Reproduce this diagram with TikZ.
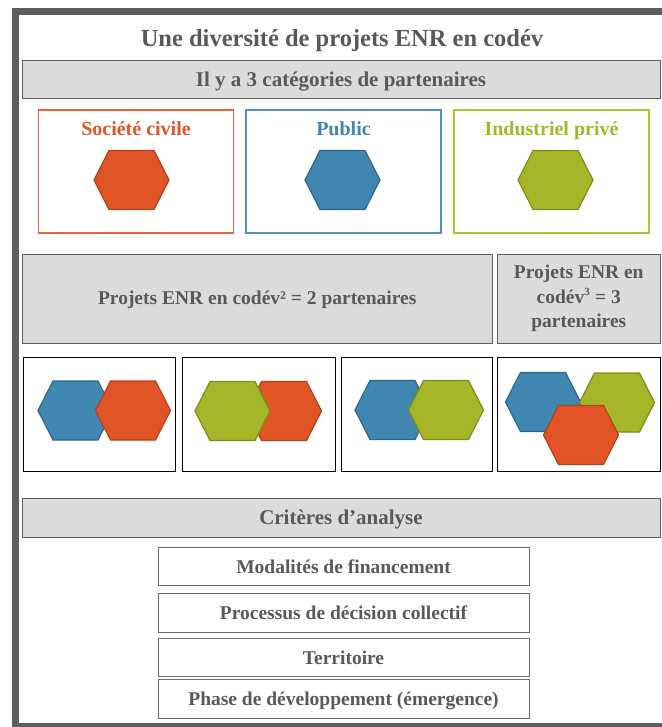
\documentclass[tikz,border=0pt]{standalone}
\usepackage{fontspec}
\setmainfont{Liberation Serif}
\usetikzlibrary{positioning}
\definecolor{framegray}{HTML}{5E5E5E}
\definecolor{txtgray}{HTML}{595959}
\definecolor{barfill}{HTML}{DCDCDC}
\definecolor{critline}{HTML}{707070}
\definecolor{orafill}{HTML}{E05426}
\definecolor{oraline}{HTML}{B3411C}
\definecolor{orabox}{HTML}{E9643E}
\definecolor{blufill}{HTML}{3F87B1}
\definecolor{bluline}{HTML}{2E6689}
\definecolor{blubox}{HTML}{4F93BC}
\definecolor{grnfill}{HTML}{A5B628}
\definecolor{grnline}{HTML}{7E8C1C}
\definecolor{grnbox}{HTML}{B2C232}
\newcommand{\hexa}[3]{
  \filldraw[fill=#2, draw=#3, line width=1.2pt] (#1) ++(-37.5,0) -- ++(15,-29.5) -- ++(45,0) -- ++(15,29.5) -- ++(-15,29.5) -- ++(-45,0) -- cycle;
}
\begin{document}
\begin{tikzpicture}[
    x=1pt, y=-1pt,
    graybar/.style={draw=framegray, line width=1pt, fill=barfill, text=txtgray, inner sep=0pt},
    partbox/.style={line width=1.5pt, inner sep=0pt, minimum width=195pt, minimum height=123pt},
    partlabel/.style={inner sep=0pt, text height=14pt, text depth=4pt, font=\bfseries\fontsize{20}{24}\selectfont},
    hexbox/.style={draw=black, line width=0.9pt, inner sep=0pt, minimum height=114pt},
    critbox/.style={draw=critline, line width=0.9pt, fill=white, text=txtgray, inner sep=0pt,
      minimum width=371pt, minimum height=38.5pt, text height=16pt, text depth=3pt,
      font=\bfseries\fontsize{19.5}{23}\selectfont},
    ]
    \useasboundingbox (0,0) rectangle (661,727);
    % outer frame
    \draw[framegray, line width=7pt] (15,12) rectangle (668,726);

    \node[text=txtgray, inner sep=0pt, text height=17pt, text depth=5pt, font=\bfseries\fontsize{24.5}{29}\selectfont]
        (title) at (342,41) {Une diversité de projets ENR en codév};
    \node[graybar, minimum width=638pt, minimum height=38pt, text height=17pt, text depth=3pt,
        font=\bfseries\fontsize{21}{25}\selectfont] (cat) at (341,80) {Il y a 3 catégories de partenaires};

    % the three partners
    \node[partbox, draw=orabox] (soc) at (136,171.5) {};
    \node[partbox, draw=blubox] (pub) at (343.5,171.5) {};
    \node[partbox, draw=grnbox] (ind) at (551.5,171.5) {};
    \node[partlabel, text=orafill, below=12pt of soc.north] (soclabel) {Société civile};
    \node[partlabel, text=blufill, below=12pt of pub.north] (publabel) {Public};
    \node[partlabel, text=grnfill, below=12pt of ind.north] (indlabel) {Industriel privé};
    \hexa{131.5,180}{orafill}{oraline}
    \hexa{342.5,180}{blufill}{bluline}
    \hexa{555.5,180}{grnfill}{grnline}

    % codev2 and codev3
    \node[graybar, minimum width=469.5pt, minimum height=89pt, text height=15pt, text depth=3pt,
        font=\bfseries\fontsize{19.5}{24}\selectfont] (two) at (257.25,298.5) {Projets ENR en codév² = 2 partenaires};
    \node[graybar, minimum width=162.5pt, minimum height=89pt, align=center,
        font=\bfseries\fontsize{19.5}{24.5}\selectfont] (three) at (578.75,298.5) {Projets ENR en\\codév\textsuperscript{\fontsize{11}{11}\selectfont 3} = 3\\partenaires};

    \node[hexbox, minimum width=152pt] (boxa) at (99,414) {};
    \node[hexbox, minimum width=153pt] (boxb) at (258.5,414) {};
    \node[hexbox, minimum width=151pt] (boxc) at (416.5,414) {};
    \node[hexbox, minimum width=162.5pt] (boxd) at (578.75,414) {};
    \hexa{75.5,410.5}{blufill}{bluline}
    \hexa{133,410.5}{orafill}{oraline}
    \hexa{284,411}{orafill}{oraline}
    \hexa{232.5,411}{grnfill}{grnline}
    \hexa{392.5,410}{blufill}{bluline}
    \hexa{446,410}{grnfill}{grnline}
    \hexa{543,402}{blufill}{bluline}
    \hexa{617,402.5}{grnfill}{grnline}
    \hexa{581,435}{orafill}{oraline}

    % criteres
    \node[graybar, minimum width=638pt, minimum height=39pt, text height=17pt, text depth=3pt,
        font=\bfseries\fontsize{21}{25}\selectfont] (crit) at (341,517.5) {Critères d’analyse};
    \node[critbox] (fin) at (343.5,566.5) {Modalités de financement};
    \node[critbox] (dec) at (343.5,613) {Processus de décision collectif};
    \node[critbox] (ter) at (343.5,657.5) {Territoire};
    \node[critbox] (dev) at (343.5,699) {Phase de développement (émergence)};
\end{tikzpicture}
\end{document}
